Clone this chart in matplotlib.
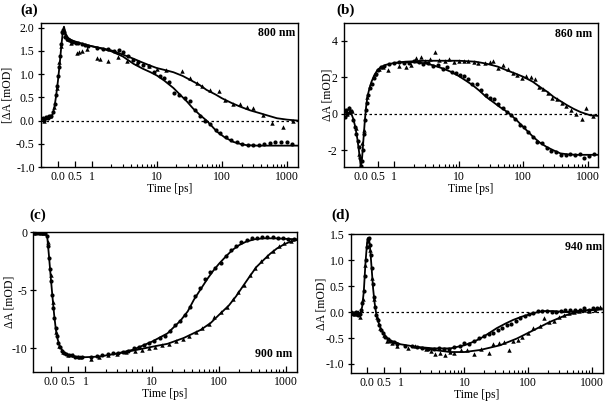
import numpy as np
import matplotlib
matplotlib.use("Agg")
import matplotlib.pyplot as plt
from matplotlib.ticker import FixedLocator, FixedFormatter, NullFormatter

plt.rcParams['font.family'] = ['Liberation Serif', 'DejaVu Serif']
plt.rcParams['mathtext.fontset'] = 'stix'

# ---------------- data ----------------
x_ticks = [0.0, 0.5, 1, 10, 100, 1000]
x_ticklabels = ['0.0', '0.5', '1', '10', '100', '1000']
panel_labels = ['(a)', '(b)', '(c)', '(d)']
wavelengths = ['800 nm', '860 nm', '900 nm', '940 nm']
ylabels = ['[ΔA [mOD]', 'ΔA [mOD]', 'ΔA [mOD]', 'ΔA [mOD]']

# ---- panel (a) 800 nm ----
a_circ_t = [-0.45, -0.4, -0.35, -0.3, -0.25, -0.2, -0.15, -0.1, -0.06, -0.03, 0.0, 0.03, 0.06, 0.09,
            0.12, 0.15, 0.18, 0.22, 0.27, 0.32, 0.38, 0.45, 0.52, 0.6, 0.7, 0.8, 0.9,
            1.2, 1.5, 1.8, 2.2, 2.6, 3.0, 3.6, 4.3, 5.2, 6.2, 7.5, 9, 11, 13, 15.5, 18.5, 22, 27,
            32, 38, 46, 55, 66, 80, 95, 115, 140, 170, 200, 250, 300, 370, 450, 550, 650, 800, 1000, 1200]
a_circ_v = [0.05, 0.02, 0.08, 0.05, 0.1, 0.1, 0.18, 0.35, 0.55, 0.75, 0.95, 1.15, 1.4, 1.65,
            1.9, 1.95, 1.9, 1.8, 1.75, 1.73, 1.72, 1.7, 1.68, 1.66, 1.65, 1.62, 1.6,
            1.57, 1.55, 1.53, 1.5, 1.52, 1.48, 1.38, 1.3, 1.25, 1.2, 1.18, 1.05, 0.95, 0.92, 0.82, 0.6,
            0.55, 0.48, 0.42, 0.22, 0.1, 0.0, -0.08, -0.2, -0.27, -0.36, -0.42, -0.47, -0.5, -0.53,
            -0.53, -0.52, -0.51, -0.48, -0.47, -0.47, -0.47, -0.5]
a_tri_t = [-0.42, -0.32, -0.22, -0.12, -0.04, 0.04, 0.1, 0.16, 0.2, 0.3, 0.4, 0.55, 0.62, 0.7, 0.85,
           1.19, 1.34, 1.8, 2.5, 3.5, 5, 7.5, 10, 14, 24, 32, 41, 49, 66, 89, 113, 150, 190, 240,
           305, 430, 580, 880, 1230]
a_tri_v = [0.0, 0.08, 0.1, 0.3, 0.7, 1.25, 1.6, 1.9, 1.85, 1.75, 1.68, 1.45, 1.47, 1.5, 1.55,
           1.35, 1.33, 1.29, 1.36, 1.28, 1.24, 1.17, 1.1, 1.08, 1.06, 0.92, 0.81, 0.75, 0.66, 0.63,
           0.45, 0.36, 0.36, 0.3, 0.27, 0.12, -0.06, -0.13, 0.0]
a_fit1_t = [-0.5, -0.3, -0.2, -0.15, -0.1, -0.05, 0.0, 0.05, 0.1, 0.15, 0.18, 0.22, 0.3, 0.4, 0.6,
            0.8, 1.0, 1.5, 2, 3, 4.4, 6, 8, 10, 13, 18, 23, 29, 36, 46, 58, 70, 84, 110, 150,
            200, 240, 350, 600, 1450]
a_fit1_v = [0.02, 0.03, 0.08, 0.15, 0.3, 0.55, 0.85, 1.2, 1.6, 1.95, 2.02, 1.88, 1.78, 1.73, 1.68,
            1.64, 1.6, 1.54, 1.49, 1.38, 1.22, 1.12, 1.04, 0.97, 0.86, 0.70, 0.55, 0.41, 0.26, 0.12,
            0.0, -0.12, -0.24, -0.36, -0.46, -0.51, -0.53, -0.54, -0.54, -0.54]
a_fit2_t = [1.0, 1.5, 2, 3, 4.4, 6, 8, 10, 14, 18, 25, 32, 45, 58, 80, 100, 140, 190, 270, 380,
            500, 700, 1000, 1450]
a_fit2_v = [1.6, 1.55, 1.51, 1.42, 1.33, 1.25, 1.18, 1.13, 1.08, 1.04, 0.96, 0.88, 0.77, 0.66,
            0.56, 0.48, 0.38, 0.30, 0.22, 0.16, 0.11, 0.05, 0.02, 0.0]

# ---- panel (b) 860 nm ----
b_circ_t = [-0.52, -0.48, -0.44, -0.4, -0.36, -0.32, -0.28, -0.23, -0.17, -0.13, -0.09, -0.06,
            -0.03, 0.0, 0.03, 0.06, 0.09, 0.12, 0.15, 0.18, 0.22, 0.27, 0.32, 0.38, 0.44, 0.5,
            0.6, 0.7, 0.85, 1.0,
            1.2, 1.4, 1.7, 2.0, 2.4, 2.8, 3.3, 4, 4.7, 5.6, 6.5, 7.8, 9, 10.5, 12, 14, 16, 19, 22,
            26, 30, 35, 41, 48, 56, 65, 75, 88, 103, 120, 140, 165, 195, 230, 270, 320, 380, 450,
            530, 630, 750, 880, 1050, 1250]
b_circ_v = [0.1, -0.2, 0.2, 0.0, 0.3, 0.1, 0.15, -0.36, -0.7, -1.1, -1.5, -1.8,
            -2.4, -2.85, -2.6, -2.0, -1.1, -0.36, 0.2, 0.6, 1.0, 1.4, 1.65, 1.95, 2.2, 2.4,
            2.55, 2.62, 2.72, 2.78,
            2.85, 2.75, 2.8, 2.9, 2.85, 2.7, 2.75, 2.6, 2.65, 2.45, 2.55, 2.3, 2.25, 2.1, 2.05,
            1.9, 1.6, 1.6, 1.3, 1.0, 0.85, 0.8, 0.55, 0.3, 0.1, -0.05, -0.3, -0.6, -0.75, -1.0,
            -1.3, -1.55, -1.6, -1.9, -2.05, -2.1, -2.25, -2.25, -2.2, -2.25, -2.2, -2.4, -2.3, -2.2]
b_tri_t = [-0.5, -0.42, -0.34, -0.26, -0.15, -0.05, 0.05, 0.1, 0.2, 0.3, 0.42, 0.55, 0.65, 0.8,
           1.2, 1.5, 1.8, 2.2, 2.6, 3, 3.6, 4.3, 5, 6, 7, 8.5, 10, 12, 14, 17, 20, 25, 30, 34,
           40, 48, 57, 68, 80, 95, 110, 130, 150, 175, 205, 240, 280, 330, 390, 460, 550, 650,
           800, 950, 1200]
b_tri_v = [0.25, 0.0, 0.3, 0.15, -0.8, -2.2, -1.6, -0.9, 0.9, 1.7, 2.2, 2.45, 2.55, 2.4,
           2.6, 2.55, 2.65, 3.05, 3.1, 2.9, 3.0, 3.4, 2.95, 2.9, 3.0, 2.85, 2.9, 2.88, 2.9, 2.85,
           2.8, 2.75, 2.85, 2.9, 2.5, 2.65, 2.45, 2.25, 2.1, 1.95, 2.05, 2.0, 1.9, 1.45, 1.35,
           1.15, 0.85, 0.8, 0.6, 0.45, 0.2, 0.0, -0.3, 0.3, -0.15]
b_fit1_t = [-0.55, -0.35, -0.28, -0.22, -0.16, -0.1, -0.05, 0.0, 0.04, 0.08, 0.12, 0.16, 0.2,
            0.26, 0.32, 0.4, 0.5, 0.6, 0.75, 1.0, 1.5, 2, 3, 4, 5.6, 7.5, 10, 13, 16.4, 21, 26.5,
            34, 43, 52, 61, 80, 100, 143, 180, 232, 300, 375, 500, 700, 1500]
b_fit1_v = [0.05, 0.05, 0.0, -0.3, -0.75, -1.4, -2.1, -2.9, -2.4, -1.4, -0.4, 0.4, 0.95,
            1.4, 1.75, 2.1, 2.4, 2.55, 2.68, 2.78, 2.82, 2.82, 2.76, 2.65, 2.48, 2.3, 2.06, 1.8,
            1.56, 1.25, 0.92, 0.64, 0.37, 0.18, 0.0, -0.38, -0.73, -1.28, -1.58, -1.83, -2.02,
            -2.17, -2.23, -2.25, -2.25]
b_fit2_t = [1.0, 1.5, 3, 10, 18, 26, 40, 55, 75, 100, 140, 180, 235, 295, 380, 480, 600, 770,
            1100, 1500]
b_fit2_v = [2.78, 2.85, 2.9, 2.9, 2.85, 2.75, 2.58, 2.38, 2.2, 2.02, 1.75, 1.47, 1.2, 0.92,
            0.68, 0.46, 0.27, 0.09, -0.09, -0.12]

# ---- panel (c) 900 nm ----
c_circ_t = [-0.5, -0.45, -0.4, -0.35, -0.3, -0.25, -0.2, -0.15, -0.1, -0.07, -0.04, -0.01, 0.02,
            0.05, 0.08, 0.11, 0.14, 0.18, 0.22, 0.27, 0.32, 0.38, 0.45, 0.52, 0.6, 0.7, 0.8, 0.9,
            1.2, 1.5, 1.8, 2.2, 2.6, 3.1, 3.7, 4.4, 5.3, 6.3, 7.5, 9, 10.8, 13, 15.5, 18.5, 22,
            26, 31, 37, 44, 52, 62, 74, 88, 105, 125, 150, 180, 215, 260, 310, 370, 440, 530,
            630, 750, 900, 1080, 1300]
c_circ_v = [0.0, -0.1, -0.05, -0.1, 0.0, -0.05, -0.05, -0.1, -0.3, -1.2, -2.2, -3.2, -4.2,
            -5.4, -6.5, -7.4, -8.2, -8.9, -9.5, -9.9, -10.2, -10.4, -10.5, -10.6, -10.6, -10.7,
            -10.7, -10.7,
            -10.7, -10.65, -10.6, -10.5, -10.4, -10.4, -10.3, -10.2, -10.0, -9.9, -9.7, -9.5,
            -9.4, -9.1, -8.9, -8.5, -8.0, -7.6, -7.1, -6.4, -5.5, -4.8, -4.0, -3.4, -3.1, -2.6,
            -2.0, -1.55, -1.2, -0.85, -0.7, -0.5, -0.45, -0.4, -0.4, -0.42, -0.45, -0.5, -0.55,
            -0.55]
c_tri_t = [-0.48, -0.38, -0.28, -0.18, -0.08, 0.0, 0.07, 0.16, 0.25, 0.35, 0.5, 0.65, 0.85,
           1.2, 1.6, 2.2, 3, 4, 5.5, 7, 9, 11, 14, 18, 23, 29, 36, 45, 56, 70, 85, 105, 130, 160,
           195, 240, 290, 350, 430, 520, 640, 780, 950, 1200]
c_tri_v = [-0.05, 0.0, -0.1, -0.05, -0.8, -3.7, -6.0, -8.6, -9.8, -10.3, -10.55, -10.6, -10.7,
           -10.9, -10.7, -10.6, -10.5, -10.3, -10.2, -10.1, -10.0, -9.85, -9.7, -9.6, -9.4, -9.2,
           -8.9, -8.6, -8.2, -7.9, -7.3, -6.9, -6.4, -5.7, -5.1, -4.5, -3.7, -3.1, -2.5, -2.0,
           -1.6, -1.2, -0.95, -0.75]
c_fit1_t = [-0.53, -0.15, -0.1, -0.05, 0.0, 0.05, 0.1, 0.15, 0.2, 0.25, 0.32, 0.4, 0.5, 0.7, 1,
            1.6, 2.9, 5.2, 10, 16.9, 26.5, 34, 42, 53, 67, 82, 100, 130, 160, 200, 255, 340, 460,
            700, 1040, 1500]
c_fit1_v = [0.0, -0.05, -0.35, -2.0, -3.8, -5.5, -7.1, -8.4, -9.2, -9.7, -10.1, -10.4, -10.6,
            -10.7, -10.75, -10.7, -10.45, -10.1, -9.4, -8.7, -7.6, -6.8, -5.8, -4.9, -4.0, -3.3,
            -2.7, -2.0, -1.5, -1.1, -0.8, -0.6, -0.52, -0.52, -0.57, -0.6]
c_fit2_t = [2.9, 5, 10, 16.9, 29.5, 53, 75, 100, 140, 180, 230, 287, 360, 460, 580, 730, 930,
            1170, 1500]
c_fit2_v = [-10.45, -10.2, -9.85, -9.6, -9.1, -8.4, -7.8, -7.1, -6.3, -5.5, -4.6, -3.8, -3.0,
            -2.4, -1.85, -1.4, -1.05, -0.8, -0.65]

# ---- panel (d) 940 nm ----
d_circ_t = [-0.46, -0.42, -0.38, -0.34, -0.3, -0.26, -0.22, -0.18, -0.14, -0.1, -0.07, -0.04,
            -0.01, 0.02, 0.05, 0.08, 0.11, 0.14, 0.17, 0.2, 0.24, 0.28, 0.32, 0.37, 0.42, 0.48,
            0.55, 0.62, 0.7, 0.8, 0.9,
            1.2, 1.5, 1.8, 2.2, 2.7, 3.3, 4, 4.8, 5.8, 7, 8.5, 10, 12, 14, 17, 20, 24, 28, 33, 39,
            46, 54, 63, 74, 87, 102, 120, 140, 165, 195, 230, 270, 320, 380, 450, 530, 630, 750,
            880, 1030, 1200]
d_circ_v = [-0.02, -0.03, -0.02, 0.0, -0.02, -0.05, -0.03, 0.05, 0.17, 0.4, 0.7, 1.0,
            1.25, 1.4, 1.42, 1.3, 1.1, 0.85, 0.55, 0.3, 0.1, -0.05, -0.15, -0.25, -0.35, -0.4,
            -0.48, -0.52, -0.56, -0.58, -0.62,
            -0.65, -0.66, -0.68, -0.7, -0.72, -0.72, -0.7, -0.72, -0.72, -0.68, -0.66, -0.6,
            -0.62, -0.55, -0.5, -0.47, -0.42, -0.4, -0.35, -0.3, -0.25, -0.22, -0.18, -0.12,
            -0.08, -0.04, -0.02, 0.02, 0.03, 0.02, 0.01, 0.0, 0.03, 0.05, 0.05, 0.05, 0.05, 0.07,
            0.05, 0.07, 0.08]
d_tri_t = [-0.44, -0.36, -0.28, -0.22, -0.12, -0.05, 0.03, 0.1, 0.16, 0.22, 0.3, 0.4, 0.5, 0.6,
           0.75, 0.9,
           1.3, 1.7, 2.5, 3, 3.5, 4.2, 5, 6, 7, 9, 11, 14, 18, 24, 28, 35, 42, 50, 58, 68, 80,
           100, 120, 150, 175, 210, 250, 300, 360, 430, 520, 620, 750, 900, 1100, 1300]
d_tri_v = [0.0, -0.03, 0.0, -0.1, 0.25, 0.9, 1.38, 1.2, 0.65, 0.25, -0.1, -0.3, -0.45, -0.55,
           -0.6, -0.65,
           -0.7, -0.65, -0.72, -0.75, -0.8, -0.78, -0.82, -0.76, -0.78, -0.74, -0.73, -0.8,
           -0.72, -0.78, -0.62, -0.6, -0.57, -0.73, -0.55, -0.53, -0.48, -0.4, -0.3, -0.27,
           -0.12, -0.2, -0.18, -0.1, -0.05, -0.02, 0.0, 0.03, 0.05, 0.03, 0.05, 0.1]
d_fit1_t = [-0.48, -0.2, -0.15, -0.1, -0.05, 0.0, 0.03, 0.06, 0.1, 0.14, 0.18, 0.22, 0.27, 0.33,
            0.4, 0.5, 0.6, 0.7, 0.85, 1, 1.8, 3.3, 6, 10, 14, 17.7, 24, 32, 44, 58, 78, 100, 130,
            170, 250, 385, 700, 1400]
d_fit1_v = [-0.02, -0.02, 0.1, 0.4, 0.95, 1.35, 1.43, 1.4, 1.15, 0.8, 0.45, 0.2, -0.02, -0.18,
            -0.3, -0.42, -0.5, -0.55, -0.58, -0.62, -0.67, -0.70, -0.70, -0.64, -0.57, -0.51,
            -0.41, -0.31, -0.22, -0.15, -0.09, -0.05, -0.01, 0.02, 0.02, 0.0, 0.03, 0.05]
d_fit2_t = [1.8, 3.3, 6, 10, 17.7, 36, 66, 120, 216, 385, 700, 1400]
d_fit2_v = [-0.68, -0.73, -0.77, -0.77, -0.73, -0.64, -0.51, -0.35, -0.19, -0.06, 0.02, 0.07]

panels = [
    dict(ct=a_circ_t, cv=a_circ_v, tt=a_tri_t, tv=a_tri_v, f1t=a_fit1_t, f1v=a_fit1_v,
         f2t=a_fit2_t, f2v=a_fit2_v, ylim=(-1.0, 2.1), yticks=[-1.0, -0.5, 0.0, 0.5, 1.0, 1.5, 2.0],
         yfmt='{:.1f}', zero=True, pos=[41, 23, 297.5, 167], wl_xy=(0.99, 0.93), lab_xy=(29, 10),
         ylab_x=14),
    dict(ct=b_circ_t, cv=b_circ_v, tt=b_tri_t, tv=b_tri_v, f1t=b_fit1_t, f1v=b_fit1_v,
         f2t=b_fit2_t, f2v=b_fit2_v, ylim=(-2.9, 4.95), yticks=[-2, 0, 2, 4],
         yfmt='{:.0f}', zero=True, pos=[344, 23.3, 598.3, 166.7], wl_xy=(0.975, 0.925),
         lab_xy=(346, 10), ylab_x=333),
    dict(ct=c_circ_t, cv=c_circ_v, tt=c_tri_t, tv=c_tri_v, f1t=c_fit1_t, f1v=c_fit1_v,
         f2t=c_fit2_t, f2v=c_fit2_v, ylim=(-12.0, 0.0), yticks=[-10, -5, 0],
         yfmt='{:.0f}', zero=False, pos=[33.3, 232.3, 296.7, 371.7], wl_xy=(0.982, 0.127),
         lab_xy=(38, 215), ylab_x=15),
    dict(ct=d_circ_t, cv=d_circ_v, tt=d_tri_t, tv=d_tri_v, f1t=d_fit1_t, f1v=d_fit1_v,
         f2t=d_fit2_t, f2v=d_fit2_v, ylim=(-1.18, 1.5), yticks=[-1.0, -0.5, 0.0, 0.5, 1.0, 1.5],
         yfmt='{:.1f}', zero=True, pos=[350.5, 234.3, 602.7, 373.3], wl_xy=(0.997, 0.91),
         lab_xy=(341, 215), ylab_x=328),
]

# ------------- lin/log time axis -------------
K = 0.52  # decades per ps in the linear part


def fwd(t):
    t = np.asarray(t, dtype=float)
    with np.errstate(divide='ignore', invalid='ignore'):
        lg = K + np.log10(np.clip(t, 1.0, None))
    return np.where(t <= 1.0, K * t, lg)


def inv(u):
    u = np.asarray(u, dtype=float)
    with np.errstate(over='ignore'):
        ex = 10.0 ** (np.clip(u, K, 10) - K)
    return np.where(u <= K, u / K, ex)


W, H = 605, 407
fig = plt.figure(figsize=(W / 100, H / 100), dpi=100)

minor_x = [m * 10 ** e for e in range(0, 3) for m in range(2, 10)]
FS = 8.5

for i, p in enumerate(panels):
    l, t, r, b = p['pos']
    ax = fig.add_axes([l / W, 1 - b / H, (r - l) / W, (b - t) / H])
    ax.set_xscale('function', functions=(fwd, inv))
    ax.set_xlim(-0.5, 1450)
    ax.set_ylim(*p['ylim'])

    if p['zero']:
        ax.axhline(0, color='black', lw=0.9, ls=(0, (2, 2)), zorder=1)

    ax.plot(p['f1t'], p['f1v'], color='black', lw=1.3, zorder=2)
    ax.plot(p['f2t'], p['f2v'], color='black', lw=1.3, zorder=2)
    ax.plot(p['ct'], p['cv'], 'o', color='black', ms=3.0, mew=0, zorder=3)
    ax.plot(p['tt'], p['tv'], '^', color='black', ms=3.2, mew=0, zorder=3)

    ax.xaxis.set_major_locator(FixedLocator(x_ticks))
    ax.xaxis.set_major_formatter(FixedFormatter(x_ticklabels))
    ax.xaxis.set_minor_locator(FixedLocator(minor_x))
    ax.xaxis.set_minor_formatter(NullFormatter())
    ax.tick_params(axis='x', which='major', direction='in', length=4, width=0.9,
                   labelsize=FS, pad=3)
    ax.tick_params(axis='x', which='minor', direction='in', length=2, width=0.8)

    ax.set_yticks(p['yticks'])
    ax.set_yticklabels([p['yfmt'].format(v) for v in p['yticks']])
    ax.tick_params(axis='y', which='major', direction='inout', length=5, width=0.9,
                   labelsize=FS, pad=2)
    ax.tick_params(top=False, right=False)

    for sp in ax.spines.values():
        sp.set_linewidth(1.0)

    ax.set_xlabel('Time [ps]', fontsize=FS, labelpad=0)
    ax.set_ylabel(ylabels[i], fontsize=FS)
    ax.yaxis.set_label_coords((p['ylab_x'] - l) / (r - l), 0.5)

    ax.text(p['wl_xy'][0], p['wl_xy'][1], wavelengths[i], transform=ax.transAxes,
            ha='right', va='center', fontsize=FS, fontweight='bold')

    fig.text(p['lab_xy'][0] / W, 1 - p['lab_xy'][1] / H, panel_labels[i], ha='center',
             va='center', fontsize=11, fontweight='bold')

fig.savefig('out.png', dpi=100)
